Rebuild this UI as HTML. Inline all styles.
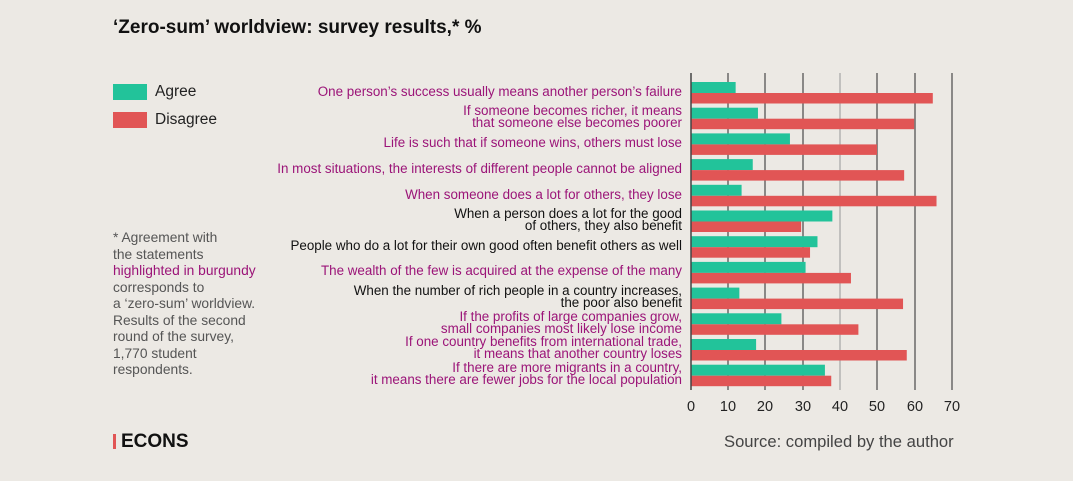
<!DOCTYPE html>
<html><head><meta charset="utf-8"><style>
body{margin:0;width:1073px;height:481px;background:#ece9e4;font-family:"Liberation Sans",sans-serif;position:relative;overflow:hidden}
.t{position:absolute;white-space:nowrap}
.lab{position:absolute;right:391px;text-align:right;font-size:13.4px;line-height:11.5px;color:#111;white-space:nowrap}
.b{color:#9b1478}
</style></head><body>
<div class="t" style="left:113px;top:17px;font-size:19px;font-weight:bold;color:#111">‘Zero-sum’ worldview: survey results,* %</div>
<div style="position:absolute;left:113px;top:84px;width:34px;height:16px;background:#22c39a"></div>
<div class="t" style="left:155px;top:83px;font-size:15.5px;color:#222">Agree</div>
<div style="position:absolute;left:113px;top:112px;width:34px;height:16px;background:#e15555"></div>
<div class="t" style="left:155px;top:111px;font-size:15.5px;color:#222">Disagree</div>
<div class="t" style="left:113px;top:230px;font-size:13.8px;line-height:16.5px;color:#555">* Agreement with<br>the statements<br><span class="b">highlighted in burgundy</span><br>corresponds to<br>a ‘zero-sum’ worldview.<br>Results of the second<br>round of the survey,<br>1,770 student<br>respondents.</div>
<div style="position:absolute;left:113px;top:434px;width:3px;height:15px;background:#e15555"></div>
<div class="t" style="left:121px;top:431px;font-size:19px;font-weight:bold;color:#111">ECONS</div>
<div class="t" style="left:724px;top:432px;font-size:16.6px;color:#444">Source: compiled by the author</div>
<svg style="position:absolute;left:0;top:0" width="1073" height="481">
<g stroke-width="1.3">
<line x1="728" y1="73" x2="728" y2="390" stroke="#555"/><line x1="765" y1="73" x2="765" y2="390" stroke="#555"/><line x1="803" y1="73" x2="803" y2="390" stroke="#555"/><line x1="840" y1="73" x2="840" y2="390" stroke="#aaa"/><line x1="877" y1="73" x2="877" y2="390" stroke="#555"/><line x1="915" y1="73" x2="915" y2="390" stroke="#555"/><line x1="952" y1="73" x2="952" y2="390" stroke="#555"/>
</g>
<g id="bars"></g>
<line x1="691" y1="73" x2="691" y2="390" stroke="#444" stroke-width="1.5"/>
<g font-size="14.5" fill="#222" text-anchor="middle" font-family="Liberation Sans">
<text x="691" y="411">0</text><text x="728" y="411">10</text><text x="765" y="411">20</text><text x="803" y="411">30</text><text x="840" y="411">40</text><text x="877" y="411">50</text><text x="915" y="411">60</text><text x="952" y="411">70</text></g>
</svg>
<script>
var d=[[12,65],[18,60],[26.6,50],[16.6,57.3],[13.6,66],[38,29.6],[34,32],[30.8,43],[13,57],[24.3,45],[17.5,58],[36,37.7]];
var s='';for(var i=0;i<12;i++){var y=82+25.7*i;s+='<rect x="691" y="'+y+'" width="'+d[i][0]*3.72+'" height="11" fill="#22c39a"/><rect x="691" y="'+(y+11)+'" width="'+d[i][1]*3.72+'" height="10.5" fill="#e15555"/>';}
document.getElementById('bars').innerHTML=s;
</script>
<div class="lab b" style="top:86px">One person’s success usually means another person’s failure</div>
<div class="lab b" style="top:105px">If someone becomes richer, it means<br>that someone else becomes poorer</div>
<div class="lab b" style="top:137px">Life is such that if someone wins, others must lose</div>
<div class="lab b" style="top:163px">In most situations, the interests of different people cannot be aligned</div>
<div class="lab b" style="top:189px">When someone does a lot for others, they lose</div>
<div class="lab" style="top:208px">When a person does a lot for the good<br>of others, they also benefit</div>
<div class="lab" style="top:240px">People who do a lot for their own good often benefit others as well</div>
<div class="lab b" style="top:265px">The wealth of the few is acquired at the expense of the many</div>
<div class="lab" style="top:285px">When the number of rich people in a country increases,<br>the poor also benefit</div>
<div class="lab b" style="top:311px">If the profits of large companies grow,<br>small companies most likely lose income</div>
<div class="lab b" style="top:336px">If one country benefits from international trade,<br>it means that another country loses</div>
<div class="lab b" style="top:362px">If there are more migrants in a country,<br>it means there are fewer jobs for the local population</div>
</body></html>
